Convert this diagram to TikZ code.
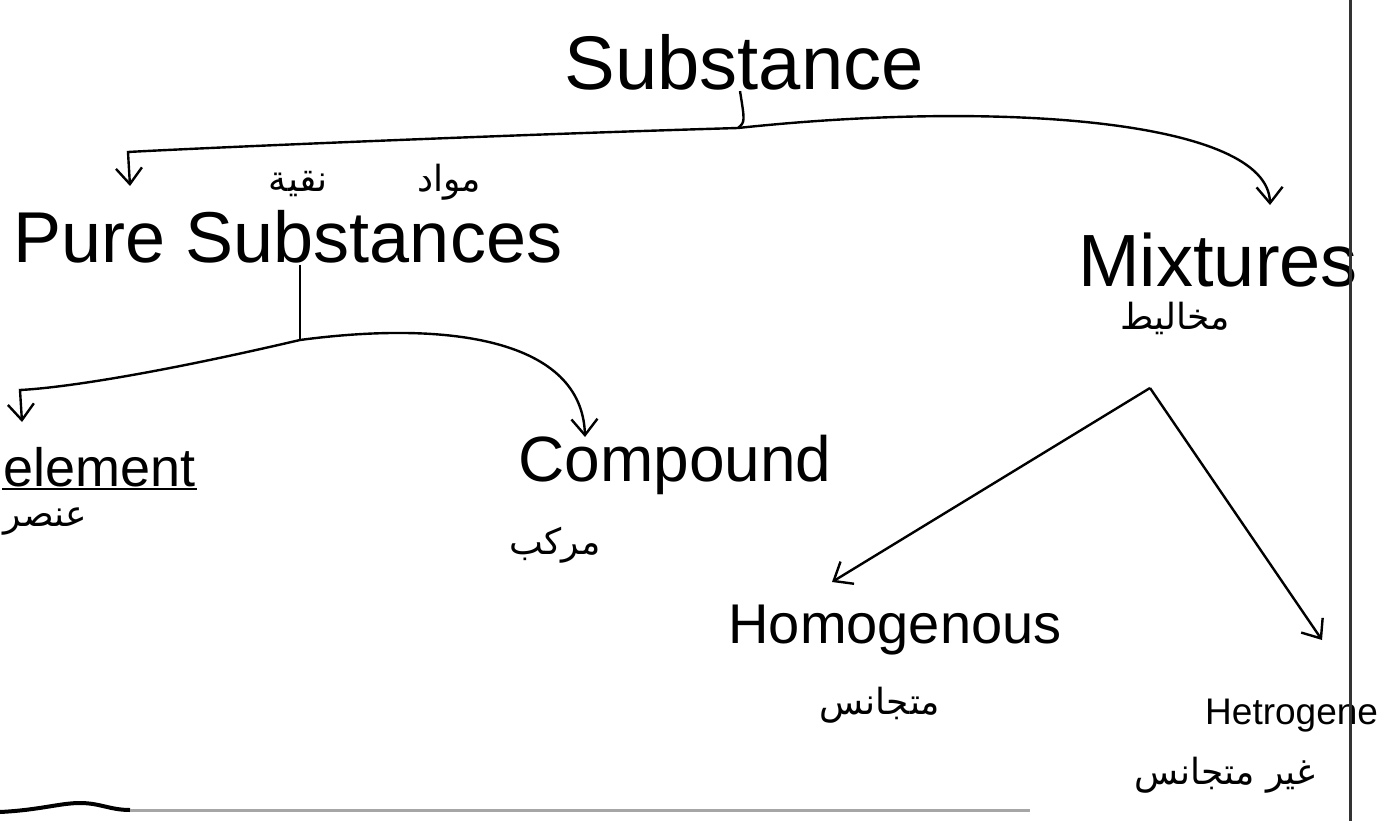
\documentclass[tikz,border=0pt]{standalone}
\usepackage{fontspec}
\setmainfont{Liberation Sans}
\newfontfamily\arfont[Script=Arabic]{DejaVu Sans}
\TeXXeTstate=1
\usetikzlibrary{arrows.meta}
\begin{document}
\begin{tikzpicture}[x=1pt,y=-1pt,line width=2.4pt,
  lbl/.style={inner sep=0pt,font=\fontsize{64}{64}\selectfont},
  artext/.style={inner sep=0pt,font=\arfont\fontsize{36}{36}\selectfont},
  arr/.style={-{Straight Barb[length=16pt,width=26pt]}},
  border/.style={line width=3pt,black!80}]
\useasboundingbox (0,0) rectangle (1391,821);
\fill[white] (0,0) rectangle (1391,821);

% nodes
\node[lbl,font=\fontsize{76}{76}\selectfont] (sub) at (744,62) {Substance};
\node[lbl,font=\fontsize{72}{72}\selectfont] (pure) at (288,237) {Pure Substances};
\node[lbl,font=\fontsize{74}{74}\selectfont] (mix) at (1218,260) {Mixtures};
\node[lbl,font=\fontsize{54}{54}\selectfont,anchor=base west] (elem) at (2,486) {element};
\node[lbl] (comp) at (675,465) {Compound};
\node[lbl,font=\fontsize{56}{56}\selectfont] (homo) at (895,630) {Homogenous};
\node[lbl,font=\fontsize{37}{37}\selectfont,anchor=base west] (het) at (1204,724) {Hetrogene};

\node[artext] (purear) at (375,182) {\beginR مواد\hspace{90pt}نقية\endR};
\node[artext] (mixar) at (1175,318) {\beginR مخاليط\endR};
\node[artext] (elemar) at (45,522) {\beginR عنصر\endR};
\node[artext] (compar) at (555,545) {\beginR مركب\endR};
\node[artext] (homoar) at (880,705) {\beginR متجانس\endR};
\node[artext] (hetar) at (1225,775) {\beginR غير متجانس\endR};

% underline of element
\draw ([yshift=-3pt]elem.base west) -- ([yshift=-3pt]elem.base east);

% Substance branches
\coordinate (j1) at (738,128);
\draw ([xshift=-4pt]sub.south) .. controls (745,122) .. (j1);
\draw[arr] (j1) .. controls (500,135) and (200,148) .. (128,152) -- (130,186);
\draw[arr] (j1) .. controls (1000,100) and (1268,120) .. (1270,205);

% Pure substances branches
\coordinate (j2) at (300,340);
\draw ([xshift=12pt]pure.south) -- (j2);
\draw[arr] (j2) .. controls (150,375) and (60,388) .. (20,390) -- (22,422);
\draw[arr] (j2) .. controls (450,320) and (582,340) .. (585,437);

% Mixtures branches
\coordinate (j3) at (1150,388);
\draw[arr] (j3) -- (832,582);
\draw[arr] (j3) -- (1322,640);

% page borders
\draw[border] (1350,0) -- (1350,821);
\draw[line width=4pt] (0,812) .. controls (40,810) and (60,803) .. (80,803) .. controls (100,803) and (110,810) .. (130,810);
\draw[line width=3pt,black!35] (130,810) -- (1030,810);
\end{tikzpicture}
\end{document}
